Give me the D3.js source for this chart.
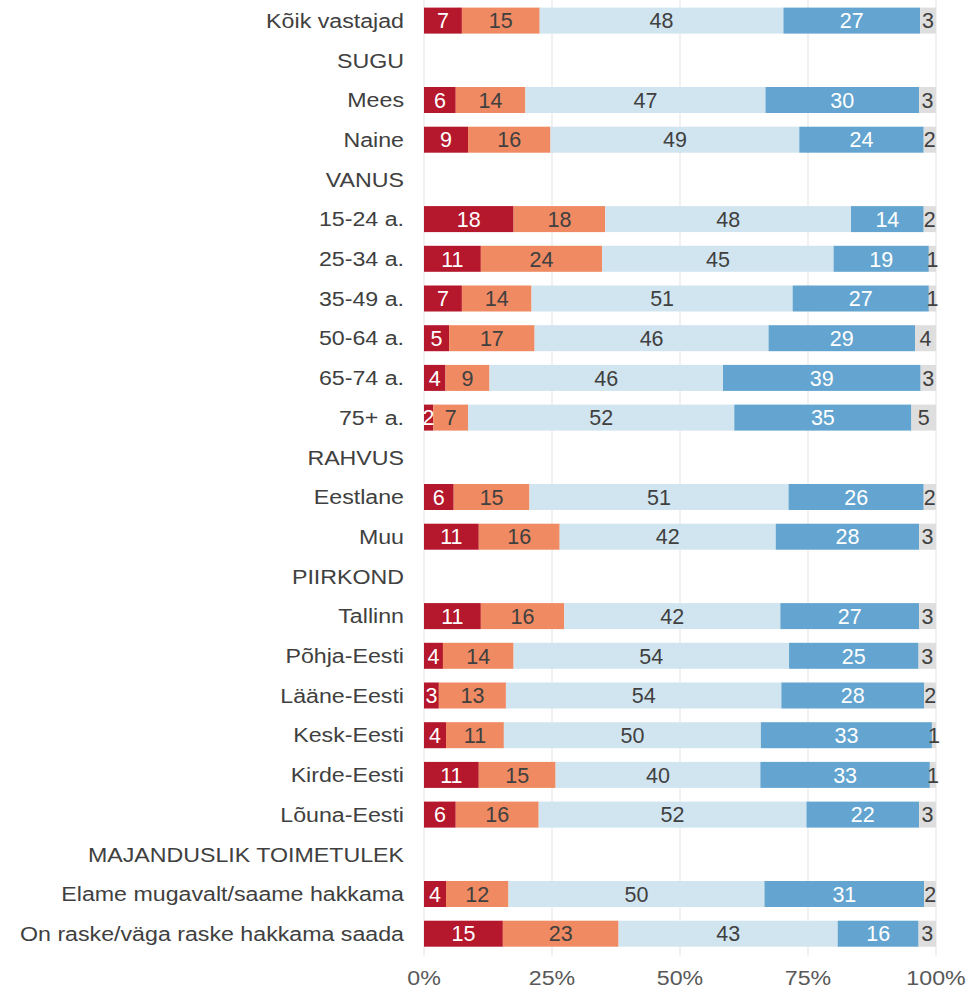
<!DOCTYPE html>
<html>
<head>
<meta charset="utf-8">
<script src="https://cdn.jsdelivr.net/npm/d3@7"></script>
<style>
  html, body { margin: 0; padding: 0; background: #ffffff; }
  svg { display: block; }
</style>
</head>
<body>
<svg id="chart" width="970" height="994"></svg>
<script>
const categories = ["Kõik vastajad","SUGU","Mees","Naine","VANUS","15-24 a.","25-34 a.","35-49 a.","50-64 a.","65-74 a.","75+ a.","RAHVUS","Eestlane","Muu","PIIRKOND","Tallinn","Põhja-Eesti","Lääne-Eesti","Kesk-Eesti","Kirde-Eesti","Lõuna-Eesti","MAJANDUSLIK TOIMETULEK","Elame mugavalt/saame hakkama","On raske/väga raske hakkama saada"];

const series1 = [7.4,null,6.2,8.6,null,17.5,11.1,7.4,4.9,4.2,1.8,null,5.8,10.7,null,11.1,3.7,2.9,4.3,10.7,6.2,null,4.3,15.4];
const series2 = [15.2,null,13.6,16.1,null,17.9,23.7,13.6,16.7,8.6,6.8,null,14.8,15.8,null,16.3,13.8,13.1,11.3,15.0,16.2,null,12.2,22.6];
const series3 = [47.6,null,46.9,48.6,null,48.0,45.2,51.0,45.7,45.6,52.0,null,50.6,42.2,null,42.2,53.8,53.8,50.2,40.0,52.3,null,50.0,42.8];
const series4 = [26.7,null,30.0,24.3,null,14.2,18.6,26.6,28.6,38.6,34.6,null,26.4,28.0,null,27.1,25.3,27.9,33.4,33.1,22.0,null,31.2,15.8];
const series5 = [3.1,null,3.3,2.4,null,2.4,1.4,1.4,4.1,3.0,4.8,null,2.4,3.3,null,3.3,3.4,2.3,0.8,1.2,3.3,null,2.3,3.4];

const xTicks = [0, 25, 50, 75, 100];
const xTickLabels = ["0%", "25%", "50%", "75%", "100%"];

const seriesList = [series1, series2, series3, series4, series5];
const colors = ["#b5172c", "#ef8a62", "#d1e5f0", "#63a5d0", "#dedede"];
const labelColors = ["#ffffff", "#404040", "#404040", "#ffffff", "#404040"];

const SX = 1.16;
const FONT = "'Liberation Sans', Arial, Helvetica, sans-serif";
const FS = 20;
const VFS = 21.5;

const svg = d3.select("#chart");

const x = d3.scaleLinear().domain([0, 100]).range([424, 936]);
const y = d3.scaleBand().domain(categories).range([0.75, 953.55]).paddingInner(0.345).paddingOuter(0.1725);

// gridlines
svg.append("g").selectAll("line").data(xTicks).join("line")
  .attr("x1", d => x(d)).attr("x2", d => x(d))
  .attr("y1", 0).attr("y2", 956)
  .attr("stroke", "#e3e3e3").attr("stroke-width", 1);

// stacked data
const rows = categories.map((c, i) => {
  let acc = 0;
  const segs = [];
  seriesList.forEach((s, k) => {
    const v = s[i];
    if (v == null) return;
    segs.push({ cat: c, k, v, x0: acc, x1: acc + v });
    acc += v;
  });
  return segs;
}).flat();

svg.append("g").selectAll("rect").data(rows).join("rect")
  .attr("x", d => x(d.x0))
  .attr("width", d => x(d.x1) - x(d.x0))
  .attr("y", d => y(d.cat))
  .attr("height", y.bandwidth())
  .attr("fill", d => colors[d.k]);

function stretchedText(g, tx, ty, anchor, sx) {
  return g.attr("transform", `translate(${tx},${ty}) scale(${sx},1)`)
    .attr("text-anchor", anchor);
}

// value labels
svg.append("g").selectAll("text").data(rows).join("text")
  .each(function(d) {
    const cx = (x(d.x0) + x(d.x1)) / 2;
    const cy = y(d.cat) + y.bandwidth() / 2 + VFS * 0.36;
    stretchedText(d3.select(this), cx, cy, "middle", 1);
  })
  .attr("font-family", FONT).attr("font-size", VFS)
  .attr("fill", d => labelColors[d.k])
  .text(d => Math.round(d.v));

// category labels
svg.append("g").selectAll("text").data(categories).join("text")
  .each(function(d) {
    stretchedText(d3.select(this), 404, y(d) + y.bandwidth() / 2 + FS * 0.36, "end", SX);
  })
  .attr("font-family", FONT).attr("font-size", FS)
  .attr("fill", "#404040")
  .text(d => d);

// x axis labels
svg.append("g").selectAll("text").data(xTicks).join("text")
  .each(function(d) {
    stretchedText(d3.select(this), x(d), 985, "middle", SX);
  })
  .attr("font-family", FONT).attr("font-size", FS)
  .attr("fill", "#595959")
  .text((d, i) => xTickLabels[i]);
</script>
</body>
</html>
